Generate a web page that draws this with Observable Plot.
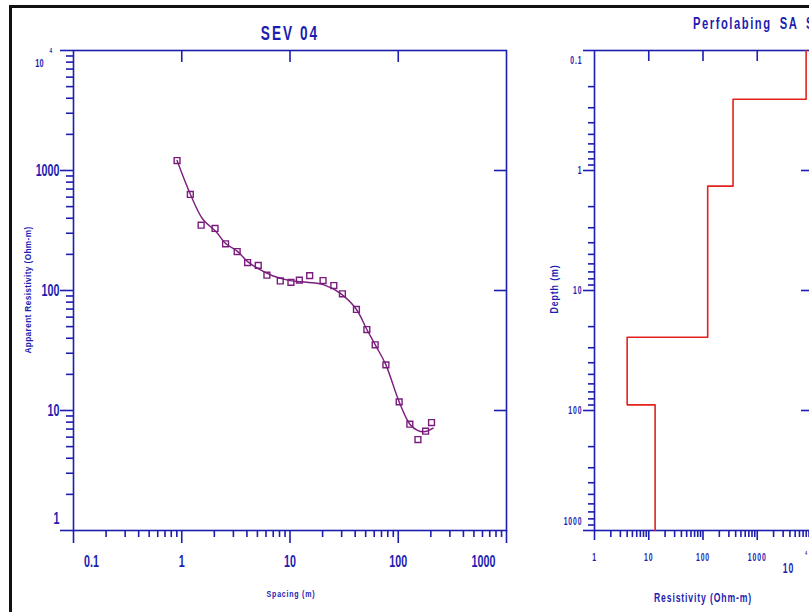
<!DOCTYPE html>
<html>
<head>
<meta charset="utf-8">
<script src="https://cdn.jsdelivr.net/npm/d3@7"></script>
<script src="https://cdn.jsdelivr.net/npm/@observablehq/plot@0.6"></script>
<style>
html, body { margin:0; padding:0; background:#fff; overflow:hidden; }
#wrap { position:relative; width:809px; height:612px; overflow:hidden; background:#fff; }
#border { position:absolute; left:9px; top:5px; width:1000px; height:800px; border:3px solid #111; box-sizing:border-box; z-index:5; pointer-events:none; }
.chart { position:absolute; top:0; }
.lbl { position:absolute; color:#1d1db0; font-family:'Liberation Sans',Arial,sans-serif; font-weight:bold; white-space:nowrap; line-height:1; }
</style>
</head>
<body>
<div id="wrap">
  <div id="left" class="chart" style="left:0px;width:545px"></div>
  <div id="right" class="chart" style="left:545px;width:300px"></div>
  <div class="lbl" style="left:290px;top:33px;font-size:20px;letter-spacing:3px;transform:translate(-50%,-50%) scaleX(0.68)">SEV 04</div>
  <div class="lbl" style="left:693px;top:24px;font-size:16px;letter-spacing:2.2px;word-spacing:5px;transform-origin:0 50%;transform:translate(0,-50%) scaleX(0.7)">Perfolabing SA SEV 04</div>
  <div class="lbl" style="left:28px;top:290px;font-size:9px;letter-spacing:0.4px;transform:translate(-50%,-50%) rotate(-90deg) scaleX(0.92)">Apparent Resistivity (Ohm-m)</div>
  <div class="lbl" style="left:291px;top:594px;font-size:9px;letter-spacing:1px;transform:translate(-50%,-50%) scaleX(0.78)">Spacing (m)</div>
  <div class="lbl" style="left:555px;top:289px;font-size:10px;letter-spacing:1px;transform:translate(-50%,-50%) rotate(-90deg) scaleX(0.88)">Depth (m)</div>
  <div class="lbl" style="left:703px;top:598px;font-size:12px;letter-spacing:1.2px;transform:translate(-50%,-50%) scaleX(0.72)">Resistivity (Ohm-m)</div>
  <div id="border"></div>
</div>
<script>
// ---------- data: VES curve (left panel) ----------
const obsSpacing = [0.905, 1.2, 1.51, 2.03, 2.54, 3.25, 4.06, 5.09, 6.12, 8.13, 10.2, 12.2, 15.2, 20.2, 25.4, 30.5, 41.1, 51.3, 61.2, 76.9, 102, 128, 152, 179, 203];
const obsRho     = [1211, 631, 350, 329, 245, 211, 171, 162, 134, 120, 117, 122, 133, 121, 110, 93.8, 69.5, 47.3, 35.3, 24.0, 11.8, 7.69, 5.73, 6.72, 7.94];
const fitSpacing = [0.905, 1.204, 1.555, 2.096, 2.556, 3.25, 4.06, 5.28, 7.0, 10, 14.3, 20.3, 29.0, 41.1, 51.3, 62.6, 76.9, 102, 128, 152, 179, 210];
const fitRho     = [1211, 631, 396, 306, 245, 213, 174, 149, 132, 121, 117, 112, 95, 69.5, 47.3, 34.1, 24.0, 11.8, 7.69, 6.81, 6.68, 7.12];

// ---------- data: layered model (right panel) ----------
const layerRho    = [7950, 358, 122, 4.0, 13.1];
const layerTop    = [0.1, 0.255, 1.35, 24.5, 89.7];
const layerBottom = [0.255, 1.35, 24.5, 89.7, 1000];

// ---------- tick labels ----------
const leftXTicks = [0.1, 1, 10, 100, 1000];
const leftXLabels = ["0.1", "1", "10", "100", "1000"];
const leftYTicks = [1, 10, 100, 1000, 10000];
const leftYLabels = ["1", "10", "100", "1000", "10"];
const rightXTicks = [1, 10, 100, 1000, 10000];
const rightXLabels = ["1", "10", "100", "1000", "10"];
const rightYTicks = [0.1, 1, 10, 100, 1000];
const rightYLabels = ["0.1", "1", "10", "100", "1000"];
const minorMult = [2, 3, 4, 5, 6, 7, 8, 9];

// ---------- styles ----------
const blue = "#1d1db0";
const purple = "#7a1c7c";
const red = "#e2231d";
const FONT = "'Liberation Sans',Arial,sans-serif";
const sh = (v, px, dec) => v * Math.pow(10, px / dec);
const minors = (decs) => decs.flatMap(d => minorMult.map(m => d * m));
const lab = (ticks, labels) => ticks.map((t, i) => ({v: t, s: labels[i]}));
function condense(svg, k) {
  d3.select(svg).selectAll("text").each(function () {
    const t = this.getAttribute("transform");
    if (t) this.setAttribute("transform", t + ` scale(${k},1)`);
  });
}

// ---------- left chart ----------
{
  const W = 545, H = 612, ml = 73, mr = 39, mt = 50, mb = 82;
  const xd = (W - ml - mr) / 4, yd = (H - mt - mb) / 4;
  const obs = obsSpacing.map((x, i) => ({x, y: obsRho[i]}));
  const fit = fitSpacing.map((x, i) => ({x, y: fitRho[i]}));
  const xl = lab(leftXTicks, leftXLabels), yl = lab(leftYTicks, leftYLabels);
  const tx = {fill: blue, fontFamily: FONT, fontWeight: "bold", fontSize: 16};
  const sw = 1.6;
  const chart = Plot.plot({
    width: W, height: H, marginLeft: ml, marginRight: mr, marginTop: mt, marginBottom: mb,
    style: {background: "transparent", overflow: "visible", maxWidth: "none"},
    x: {type: "log", domain: [0.1, 1000], axis: null},
    y: {type: "log", domain: [1, 10000], axis: null},
    marks: [
      Plot.ruleX(minors([0.1, 1, 10, 100]), {x: d => d, y1: 1, y2: sh(1, -7, yd), stroke: blue, strokeWidth: sw}),
      Plot.ruleX(leftXTicks, {x: d => d, y1: 1, y2: sh(1, -13, yd), stroke: blue, strokeWidth: sw}),
      Plot.ruleX(leftXTicks.slice(1, -1), {x: d => d, y1: 10000, y2: sh(10000, -12, yd), stroke: blue, strokeWidth: sw}),
      Plot.ruleY(minors([1, 10, 100, 1000]), {y: d => d, x1: 0.1, x2: sh(0.1, -7, xd), stroke: blue, strokeWidth: sw}),
      Plot.ruleY(leftYTicks, {y: d => d, x1: 0.1, x2: sh(0.1, -13, xd), stroke: blue, strokeWidth: sw}),
      Plot.ruleY(leftYTicks.slice(1, -1), {y: d => d, x1: 1000, x2: sh(1000, -12, xd), stroke: blue, strokeWidth: sw}),
      Plot.frame({stroke: blue, strokeWidth: sw}),
      Plot.line(fit, {x: "x", y: "y", stroke: purple, strokeWidth: 1.4, curve: "catmull-rom"}),
      Plot.dot(obs, {x: "x", y: "y", symbol: "square", r: 3.3, stroke: purple, strokeWidth: 1.4, fill: "none"}),
      // x tick labels
      Plot.text(xl.slice(1, -1), {x: "v", text: "s", frameAnchor: "bottom", dy: 36, ...tx}),
      Plot.text(xl.slice(0, 1), {x: "v", text: "s", frameAnchor: "bottom", dy: 36, dx: 18, ...tx}),
      Plot.text(xl.slice(-1), {x: "v", text: "s", frameAnchor: "bottom", dy: 36, dx: -23, ...tx}),
      // y tick labels
      Plot.text(yl.slice(1, -1), {y: "v", text: "s", frameAnchor: "left", dx: -14, textAnchor: "end", ...tx}),
      Plot.text(yl.slice(0, 1), {y: "v", text: "s", frameAnchor: "left", dx: -14, dy: -12, textAnchor: "end", ...tx}),
      Plot.text(yl.slice(-1), {y: "v", text: "s", frameAnchor: "left", dx: -30, dy: 13, textAnchor: "end", ...tx, fontSize: 11}),
      Plot.text(yl.slice(-1), {y: "v", text: () => "4", frameAnchor: "left", dx: -24, dy: 0, ...tx, fontSize: 7})
    ]
  });
  condense(chart, 0.67);
  document.getElementById("left").appendChild(chart);
}

// ---------- right chart ----------
{
  const W = 300, H = 612, ml = 49, mr = 34, mt = 50, mb = 82;
  const xd = (W - ml - mr) / 4, yd = (H - mt - mb) / 4;
  const profile = layerRho.flatMap((r, i) => [{rho: r, depth: layerTop[i]}, {rho: r, depth: layerBottom[i]}]);
  const xl = lab(rightXTicks, rightXLabels), yl = lab(rightYTicks, rightYLabels);
  const tx = {fill: blue, fontFamily: FONT, fontWeight: "bold", fontSize: 11};
  const sw = 1.6;
  const chart = Plot.plot({
    width: W, height: H, marginLeft: ml, marginRight: mr, marginTop: mt, marginBottom: mb,
    style: {background: "transparent", overflow: "visible", maxWidth: "none", letterSpacing: "1.5px"},
    x: {type: "log", domain: [1, 10000], axis: null},
    y: {type: "log", domain: [0.1, 1000], reverse: true, axis: null},
    marks: [
      Plot.ruleX(minors([1, 10, 100, 1000]), {x: d => d, y1: 1000, y2: sh(1000, 7, yd), stroke: blue, strokeWidth: sw}),
      Plot.ruleX(rightXTicks, {x: d => d, y1: 1000, y2: sh(1000, 10, yd), stroke: blue, strokeWidth: sw}),
      Plot.ruleX(rightXTicks.slice(1, -1), {x: d => d, y1: 0.1, y2: sh(0.1, 11, yd), stroke: blue, strokeWidth: sw}),
      Plot.ruleY(minors([0.1, 1, 10, 100]), {y: d => d, x1: 1, x2: sh(1, -6, xd), stroke: blue, strokeWidth: sw}),
      Plot.ruleY(rightYTicks, {y: d => d, x1: 1, x2: sh(1, -11, xd), stroke: blue, strokeWidth: sw}),
      Plot.ruleY(rightYTicks.slice(1, -1), {y: d => d, x1: 10000, x2: sh(10000, -10, xd), stroke: blue, strokeWidth: sw}),
      Plot.frame({stroke: blue, strokeWidth: sw}),
      Plot.line(profile, {x: "rho", y: "depth", stroke: red, strokeWidth: 1.6}),
      // x tick labels
      Plot.text(xl.slice(0, -1), {x: "v", text: "s", frameAnchor: "bottom", dy: 30, ...tx}),
      Plot.text(xl.slice(-1), {x: "v", text: "s", frameAnchor: "bottom", dy: 42, dx: -23, ...tx, fontSize: 14}),
      Plot.text(xl.slice(-1), {x: "v", text: () => "4", frameAnchor: "bottom", dy: 24, dx: -5, ...tx, fontSize: 6}),
      // y tick labels
      Plot.text(yl.slice(1, -1), {y: "v", text: "s", frameAnchor: "left", dx: -12, textAnchor: "end", ...tx}),
      Plot.text(yl.slice(0, 1), {y: "v", text: "s", frameAnchor: "left", dx: -12, dy: 10, textAnchor: "end", ...tx}),
      Plot.text(yl.slice(-1), {y: "v", text: "s", frameAnchor: "left", dx: -12, dy: -9, textAnchor: "end", ...tx})
    ]
  });
  condense(chart, 0.62);
  document.getElementById("right").appendChild(chart);
}
</script>
</body>
</html>
